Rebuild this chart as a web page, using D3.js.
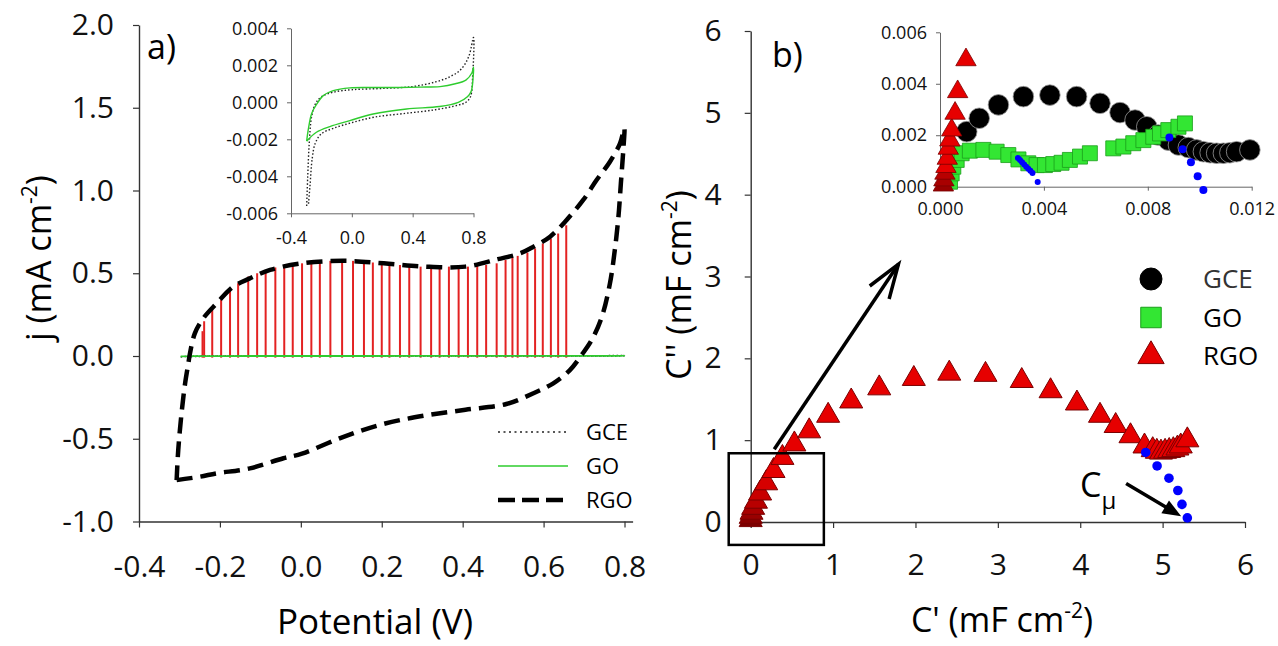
<!DOCTYPE html>
<html>
<head>
<meta charset="utf-8">
<script src="https://cdn.jsdelivr.net/npm/d3@7"></script>
<style>
    body { margin: 0; background: #fff; }
    svg { font-family: "Open Sans", sans-serif; }
</style>
</head>
<body>
<svg id="chart" width="1278" height="646"></svg>
<script>
// ---- Panel a: cyclic voltammograms (potential V, j mA cm-2) ----
const rgoCV = [
    [-0.307, -0.75], [-0.249, -0.729], [-0.208, -0.709], [-0.126, -0.679], [-0.043, -0.618],
    [0.003, -0.59], [0.104, -0.49], [0.205, -0.41], [0.306, -0.36], [0.407, -0.325],
    [0.508, -0.29], [0.575, -0.225], [0.624, -0.165], [0.665, -0.085], [0.694, 0.006],
    [0.719, 0.097], [0.744, 0.237], [0.764, 0.439], [0.776, 0.64], [0.785, 0.842],
    [0.791, 1.043], [0.797, 1.245], [0.7995, 1.376], [0.789, 1.285], [0.764, 1.174],
    [0.731, 1.063], [0.698, 0.943], [0.657, 0.822], [0.616, 0.721], [0.575, 0.66],
    [0.542, 0.62], [0.487, 0.585], [0.407, 0.54], [0.306, 0.54], [0.205, 0.56],
    [0.104, 0.575], [0.003, 0.56], [-0.076, 0.52], [-0.126, 0.469], [-0.167, 0.419],
    [-0.208, 0.318], [-0.241, 0.228], [-0.262, 0.137], [-0.274, 0.016], [-0.278, -0.044],
    [-0.286, -0.165], [-0.294, -0.326], [-0.303, -0.568], [-0.307, -0.75]
];
const goCV = [
    [-0.297, -0.0021], [-0.287, -0.0015], [-0.264, -0.0006], [-0.231, -0.0001], [-0.188, 0.00036],
    [-0.122, 0.00063], [-0.013, 0.00078], [0.14, 0.0008], [0.3, 0.0008], [0.45, 0.00082],
    [0.58, 0.00085], [0.68, 0.0010], [0.75, 0.0012], [0.79, 0.0016], [0.80, 0.0019],
    [0.797, 0.0013], [0.785, 0.0006], [0.76, 0.0003], [0.70, 0.0], [0.577, -0.00023],
    [0.36, -0.00036], [0.14, -0.00063], [-0.013, -0.00099], [-0.144, -0.00131], [-0.233, -0.00162],
    [-0.297, -0.0021]
];
const gceCV = [
    [-0.297, -0.0056], [-0.29, -0.004], [-0.28, -0.0022], [-0.265, -0.0008], [-0.24, -0.0001],
    [-0.20, 0.0003], [-0.12, 0.00055], [0.0, 0.00068], [0.2, 0.00075], [0.4, 0.00085],
    [0.55, 0.0011], [0.65, 0.0014], [0.72, 0.0018], [0.77, 0.0025], [0.80, 0.0035],
    [0.795, 0.0015], [0.78, 0.0003], [0.75, 0.0], [0.70, -0.00015], [0.55, -0.0004],
    [0.35, -0.0006], [0.15, -0.0008], [0.0, -0.0011], [-0.12, -0.0014], [-0.20, -0.0017],
    [-0.24, -0.0022], [-0.26, -0.003], [-0.275, -0.0045], [-0.285, -0.0055]
];
// red drop lines under the RGO anodic branch
const dropX = [
    -0.243, -0.239, -0.219, -0.197, -0.175, -0.155, -0.130, -0.108, -0.087, -0.063,
    -0.041, -0.020, 0.003, 0.026, 0.047, 0.073, 0.102, 0.129, 0.156, 0.178,
    0.200, 0.219, 0.245, 0.268, 0.296, 0.322, 0.343, 0.366, 0.390, 0.413,
    0.436, 0.458, 0.484, 0.506, 0.523, 0.536, 0.560, 0.579, 0.598, 0.618,
    0.636, 0.656
];
const dropTop = [
    0.15, 0.21, 0.28, 0.34, 0.40, 0.44, 0.48, 0.50, 0.52, 0.535,
    0.545, 0.55, 0.56, 0.565, 0.57, 0.575, 0.575, 0.575, 0.57, 0.565,
    0.56, 0.555, 0.55, 0.545, 0.54, 0.54, 0.54, 0.54, 0.54, 0.54,
    0.545, 0.55, 0.56, 0.58, 0.595, 0.605, 0.625, 0.65, 0.68, 0.71,
    0.74, 0.79
];
const aXTicks = [-0.4, -0.2, 0.0, 0.2, 0.4, 0.6, 0.8];
const aYTicks = [-1.0, -0.5, 0.0, 0.5, 1.0, 1.5, 2.0];
const aInsetXTicks = [-0.4, 0.0, 0.4, 0.8];
const aInsetYTicks = [-0.006, -0.004, -0.002, 0.000, 0.002, 0.004];

// ---- Panel b: complex capacitance plane (C', C'') ----
const rgoC = [
    [0, 0.025], [0.0, 0.065], [0.01, 0.115], [0.03, 0.175], [0.064, 0.25],
    [0.114, 0.35], [0.188, 0.475], [0.277, 0.625], [0.385, 0.785], [0.53, 0.95],
    [0.71, 1.11], [0.94, 1.30], [1.22, 1.475], [1.56, 1.635], [1.98, 1.75],
    [2.41, 1.815], [2.85, 1.80], [3.29, 1.725], [3.64, 1.60], [3.96, 1.45],
    [4.24, 1.30], [4.43, 1.175], [4.61, 1.05], [4.78, 0.925], [4.88, 0.88],
    [4.93, 0.86], [4.98, 0.85], [5.03, 0.86], [5.08, 0.87], [5.13, 0.88],
    [5.18, 0.9], [5.22, 0.925], [5.30, 1.0]
];
const blueC = [[4.795, 0.85], [4.933, 0.685], [5.077, 0.535], [5.185, 0.385], [5.235, 0.215], [5.30, 0.05]];
const bTicks = [0, 1, 2, 3, 4, 5, 6];

// inset b (zoom of the origin)
const insetGCE = [
    [0.00103, 0.00214], [0.00151, 0.00266], [0.00225, 0.00318], [0.00321, 0.0035], [0.00423, 0.00356],
    [0.00526, 0.0035], [0.00616, 0.00324], [0.00693, 0.00288], [0.00751, 0.00259], [0.00796, 0.00233],
    [0.0084, 0.00201], [0.00879, 0.00181], [0.00918, 0.00162], [0.00956, 0.00152], [0.00988, 0.00143],
    [0.01014, 0.00136], [0.0104, 0.00132], [0.01065, 0.0013], [0.01091, 0.0013], [0.01116, 0.00132],
    [0.01142, 0.00136], [0.01193, 0.00143]
];
const insetGO = [
    [0.000385, 0.000194], [0.000449, 0.000518], [0.000513, 0.000778], [0.000642, 0.00104], [0.000834, 0.0013],
    [0.00115, 0.0014], [0.00167, 0.00143], [0.00218, 0.00136], [0.00263, 0.00123], [0.00302, 0.00106],
    [0.0034, 0.00091], [0.00372, 0.00084], [0.00404, 0.00084], [0.00436, 0.00088], [0.00468, 0.00093],
    [0.005, 0.00104], [0.00539, 0.00117], [0.00577, 0.0013], [0.00667, 0.00149], [0.00706, 0.00156],
    [0.00744, 0.00169], [0.00783, 0.00181], [0.00821, 0.00194], [0.00847, 0.00207], [0.00879, 0.0022],
    [0.00918, 0.00233], [0.00943, 0.00246]
];
const insetRGO = [
    [0.00013, 0.00006], [0.00015, 0.00026], [0.00019, 0.00052], [0.00023, 0.00078], [0.00028, 0.0011],
    [0.00032, 0.00149], [0.00038, 0.00181], [0.00045, 0.0022], [0.00058, 0.00285], [0.00068, 0.00369],
    [0.0010, 0.00493]
];
const insetBlueSmall = [
    [0.00300, 0.00112], [0.00308, 0.00104], [0.00316, 0.00095], [0.00324, 0.00086], [0.00332, 0.00078],
    [0.0034, 0.0007], [0.00348, 0.00062], [0.00356, 0.00053], [0.00376, 0.00018]
];
const insetBlueLarge = [[0.00883, 0.00191], [0.00934, 0.00146], [0.00966, 0.00095], [0.00992, 0.00041], [0.01014, -0.00013]];
const bInsetXTicks = [0.000, 0.004, 0.008, 0.012];
const bInsetYTicks = [0.000, 0.002, 0.004, 0.006];

// annotations in panel b data units
const zoomBox = [[-0.267, 0.84], [0.888, -0.28]];
const zoomArrow = [[0.286, 0.89], [1.793, 3.15]];
const cmuArrow = [[4.557, 0.47], [5.225, 0.07]];

const RED = '#e60000', GREEN = '#33e633', BLUE = '#0000ff';
const darkReds = ['#7d0000', '#8a0000', '#990000', '#a80000', '#b80000', '#c80000', '#d60000'];

const svg = d3.select('#chart');

// helper: draw an axis with our styling
function styleAxis(g, fontSize) {
    g.select('.domain').attr('stroke', '#333').attr('stroke-width', 1.4);
    g.selectAll('.tick line').attr('stroke', '#333').attr('stroke-width', 1.2);
    g.selectAll('.tick text').attr('font-size', fontSize).attr('fill', '#111')
        .attr('font-family', '"Open Sans", sans-serif');
}
function thinAxis(g) {
    g.select('.domain').attr('stroke', '#666').attr('stroke-width', 1);
    g.selectAll('.tick line').attr('stroke', '#666').attr('stroke-width', 1);
}
function addTitle(tr, main, tail, size) {
    const t = svg.append('text').attr('transform', tr)
        .attr('text-anchor', 'middle').attr('font-size', size);
    t.append('tspan').text(main);
    t.append('tspan').attr('dy', -14).attr('font-size', 21).text('-2');
    t.append('tspan').attr('dy', 14).text(tail);
    return t;
}

// ================= Panel a =================
const xA = d3.scaleLinear().domain([-0.4, 0.82]).range([139, 632.6]);
const yA = d3.scaleLinear().domain([-1, 2]).range([521.5, 25]);

svg.append('g')
    .attr('transform', `translate(0,${yA(-1)})`)
    .call(d3.axisBottom(xA).tickValues(aXTicks).tickSize(6).tickSizeOuter(0).tickPadding(28)
        .tickFormat(d => d.toFixed(1)))
    .call(g => styleAxis(g, 30));

svg.append('g')
    .attr('transform', `translate(${xA(-0.4)},0)`)
    .call(d3.axisLeft(yA).tickValues(aYTicks).tickSize(6).tickSizeOuter(0).tickPadding(19)
        .tickFormat(d => d.toFixed(1)))
    .call(g => styleAxis(g, 30));

// red drop lines
svg.append('g').selectAll('line')
    .data(dropX)
    .enter().append('line')
    .attr('x1', d => xA(d)).attr('x2', d => xA(d))
    .attr('y1', yA(-0.01))
    .attr('y2', (d, i) => yA(dropTop[i]))
    .attr('stroke', '#e32222').attr('stroke-width', 2);

const lineA = d3.line().x(d => xA(d[0])).y(d => yA(d[1])).curve(d3.curveCatmullRom);
svg.append('path').datum(gceCV).attr('d', lineA)
    .attr('fill', 'none').attr('stroke', '#222').attr('stroke-width', 1.5).attr('stroke-dasharray', '1.5,2.5');
svg.append('path').datum(goCV).attr('d', lineA)
    .attr('fill', 'none').attr('stroke', '#2ecc2e').attr('stroke-width', 1.6);
svg.append('path').datum(rgoCV).attr('d', lineA)
    .attr('fill', 'none').attr('stroke', '#000').attr('stroke-width', 4.5).attr('stroke-dasharray', '16,8');

// panel label + axis titles
svg.append('text').attr('x', 147).attr('y', 59).attr('font-size', 34).text('a)');

svg.append('text')
    .attr('x', 375).attr('y', 634)
    .attr('text-anchor', 'middle').attr('font-size', 35)
    .text('Potential (V)');

addTitle('translate(51,258) rotate(-90)', 'j (mA cm', ')', 34);

// legend a
const legendA = [
    { name: 'GCE', stroke: '#222', width: 1.5, dash: '2,3.5' },
    { name: 'GO', stroke: '#2ecc2e', width: 1.6, dash: null },
    { name: 'RGO', stroke: '#000', width: 4.5, dash: '17,7' }
];
legendA.forEach((d, i) => {
    const y = 432 + i * 34;
    svg.append('line').attr('x1', 498).attr('x2', 568).attr('y1', y).attr('y2', y)
        .attr('stroke', d.stroke).attr('stroke-width', d.width)
        .attr('stroke-dasharray', d.dash);
    svg.append('text').attr('x', 586).attr('y', y).attr('dy', '0.35em')
        .attr('font-size', 22).text(d.name);
});

// inset a
const xAi = d3.scaleLinear().domain([-0.4, 0.8]).range([291, 473.5]);
const yAi = d3.scaleLinear().domain([-0.006, 0.004]).range([213.3, 28.3]);

svg.append('g')
    .attr('transform', `translate(0,${yAi(-0.006)})`)
    .call(d3.axisBottom(xAi).tickValues(aInsetXTicks).tickSize(4).tickSizeOuter(0).tickPadding(14)
        .tickFormat(d => d.toFixed(1)))
    .call(g => styleAxis(g, 18))
    .call(thinAxis);

svg.append('g')
    .attr('transform', `translate(${xAi(-0.4)},0)`)
    .call(d3.axisLeft(yAi).tickValues(aInsetYTicks).tickSize(4).tickSizeOuter(0).tickPadding(9)
        .tickFormat(d => d.toFixed(3)))
    .call(g => styleAxis(g, 18))
    .call(thinAxis);

const lineAi = d3.line().x(d => xAi(d[0])).y(d => yAi(d[1])).curve(d3.curveCatmullRom);
svg.append('path').datum(gceCV).attr('d', lineAi)
    .attr('fill', 'none').attr('stroke', '#222').attr('stroke-width', 1.4).attr('stroke-dasharray', '1.5,2');
svg.append('path').datum(goCV).attr('d', lineAi)
    .attr('fill', 'none').attr('stroke', '#2ecc2e').attr('stroke-width', 1.4);

// ================= Panel b =================
const xB = d3.scaleLinear().domain([0, 6]).range([750.7, 1245]);
const yB = d3.scaleLinear().domain([0, 6]).range([522, 31]);

svg.append('g')
    .attr('transform', `translate(0,${yB(0)})`)
    .call(d3.axisBottom(xB).tickValues(bTicks).tickSize(6).tickSizeOuter(0).tickPadding(26)
        .tickFormat(d3.format('d')))
    .call(g => styleAxis(g, 30));

svg.append('g')
    .attr('transform', `translate(${xB(0)},0)`)
    .call(d3.axisLeft(yB).tickValues(bTicks).tickSize(6).tickSizeOuter(0).tickPadding(23)
        .tickFormat(d3.format('d')))
    .call(g => styleAxis(g, 30));

svg.append('text').attr('x', 772).attr('y', 67).attr('font-size', 34).text('b)');

addTitle('translate(1002,632)', "C' (mF cm", ')', 34);
addTitle('translate(691,285) rotate(-90)', "C'' (mF cm", ')', 34);

// RGO triangles
const triBig = d3.symbol().type(d3.symbolTriangle).size(230);
svg.append('g').selectAll('path')
    .data(rgoC)
    .enter().append('path')
    .attr('d', triBig)
    .attr('transform', d => `translate(${xB(d[0])},${yB(d[1])})`)
    .attr('fill', (d, i) => i < darkReds.length ? darkReds[i] : RED)
    .attr('stroke', '#7a0000').attr('stroke-width', 1);

// blue extrapolation dots
svg.append('g').selectAll('circle')
    .data(blueC)
    .enter().append('circle')
    .attr('cx', d => xB(d[0])).attr('cy', d => yB(d[1])).attr('r', 4.8)
    .attr('fill', BLUE);

// zoom box and arrow
svg.append('rect')
    .attr('x', xB(zoomBox[0][0])).attr('y', yB(zoomBox[0][1]))
    .attr('width', xB(zoomBox[1][0]) - xB(zoomBox[0][0]))
    .attr('height', yB(zoomBox[1][1]) - yB(zoomBox[0][1]))
    .attr('fill', 'none').attr('stroke', '#000').attr('stroke-width', 2.5);

function drawArrow(pts, opts) {
    const x1 = xB(pts[0][0]), y1 = yB(pts[0][1]);
    const x2 = xB(pts[1][0]), y2 = yB(pts[1][1]);
    const ang = Math.atan2(y1 - y2, x1 - x2);
    const a1 = ang + opts.spread, a2 = ang - opts.spread;
    if (opts.open) {
        svg.append('line').attr('x1', x1).attr('y1', y1).attr('x2', x2).attr('y2', y2)
            .attr('stroke', '#000').attr('stroke-width', opts.width);
        svg.append('path')
            .attr('d', `M${x2 + opts.len * Math.cos(a1)},${y2 + opts.len * Math.sin(a1)}L${x2},${y2}L${x2 + opts.len * Math.cos(a2)},${y2 + opts.len * Math.sin(a2)}`)
            .attr('fill', 'none').attr('stroke', '#000').attr('stroke-width', opts.width)
            .attr('stroke-linejoin', 'miter');
    } else {
        const bx = x2 + opts.len * 0.8 * Math.cos(ang), by = y2 + opts.len * 0.8 * Math.sin(ang);
        svg.append('line').attr('x1', x1).attr('y1', y1).attr('x2', bx).attr('y2', by)
            .attr('stroke', '#000').attr('stroke-width', opts.width);
        svg.append('path')
            .attr('d', `M${x2},${y2}L${x2 + opts.len * Math.cos(a1)},${y2 + opts.len * Math.sin(a1)}L${x2 + opts.len * Math.cos(a2)},${y2 + opts.len * Math.sin(a2)}Z`)
            .attr('fill', '#000');
    }
}
drawArrow(zoomArrow, { open: true, len: 36, spread: 0.33, width: 3.5 });
drawArrow(cmuArrow, { open: false, len: 20, spread: 0.38, width: 3.5 });

// C_mu label
const cmu = svg.append('text').attr('x', 1080).attr('y', 497).attr('font-size', 34);
cmu.append('tspan').text('C');
cmu.append('tspan').attr('dy', 12).attr('font-size', 24).text('μ');

// legend b
const legendB = [
    { name: 'GCE', sym: d3.symbolCircle, size: 380, fill: '#000', stroke: '#000', color: '#333' },
    { name: 'GO', sym: d3.symbolSquare, size: 420, fill: GREEN, stroke: '#1a9e1a', color: '#000' },
    { name: 'RGO', sym: d3.symbolTriangle, size: 300, fill: RED, stroke: '#7a0000', color: '#000' }
];
legendB.forEach((d, i) => {
    const y = 279 + i * 38.5;
    svg.append('path').attr('d', d3.symbol().type(d.sym).size(d.size))
        .attr('transform', `translate(1151,${y})`)
        .attr('fill', d.fill).attr('stroke', d.stroke).attr('stroke-width', 1);
    svg.append('text').attr('x', 1203).attr('y', y).attr('dy', '0.36em')
        .attr('font-size', 26).attr('fill', d.color).text(d.name);
});

// inset b
const xBi = d3.scaleLinear().domain([0, 0.012]).range([940, 1251.7]);
const yBi = d3.scaleLinear().domain([0, 0.006]).range([186.7, 32.3]);

svg.append('g')
    .attr('transform', `translate(0,${yBi(0)})`)
    .call(d3.axisBottom(xBi).tickValues(bInsetXTicks).tickSize(4).tickSizeOuter(0).tickPadding(12)
        .tickFormat(d => d.toFixed(3)))
    .call(g => styleAxis(g, 18))
    .call(thinAxis);

svg.append('g')
    .attr('transform', `translate(${xBi(0)},0)`)
    .call(d3.axisLeft(yBi).tickValues(bInsetYTicks).tickSize(4).tickSizeOuter(0).tickPadding(9)
        .tickFormat(d => d.toFixed(3)))
    .call(g => styleAxis(g, 18))
    .call(thinAxis);

svg.append('g').selectAll('circle')
    .data(insetGCE)
    .enter().append('circle')
    .attr('cx', d => xBi(d[0])).attr('cy', d => yBi(d[1])).attr('r', 10.3)
    .attr('fill', '#000').attr('stroke', '#999').attr('stroke-width', 0.8);

svg.append('g').selectAll('path')
    .data(insetGO)
    .enter().append('path')
    .attr('d', d3.symbol().type(d3.symbolSquare).size(225))
    .attr('transform', d => `translate(${xBi(d[0])},${yBi(d[1])})`)
    .attr('fill', GREEN).attr('stroke', '#1a9e1a').attr('stroke-width', 0.8);

svg.append('g').selectAll('path')
    .data(insetRGO)
    .enter().append('path')
    .attr('d', d3.symbol().type(d3.symbolTriangle).size(180))
    .attr('transform', d => `translate(${xBi(d[0])},${yBi(d[1])})`)
    .attr('fill', (d, i) => i < 3 ? darkReds[i + 2] : RED)
    .attr('stroke', '#7a0000').attr('stroke-width', 0.8);

svg.append('g').selectAll('circle')
    .data(insetBlueSmall)
    .enter().append('circle')
    .attr('cx', d => xBi(d[0])).attr('cy', d => yBi(d[1])).attr('r', 3)
    .attr('fill', BLUE);
svg.append('g').selectAll('circle')
    .data(insetBlueLarge)
    .enter().append('circle')
    .attr('cx', d => xBi(d[0])).attr('cy', d => yBi(d[1])).attr('r', 4)
    .attr('fill', BLUE);
</script>
</body>
</html>
